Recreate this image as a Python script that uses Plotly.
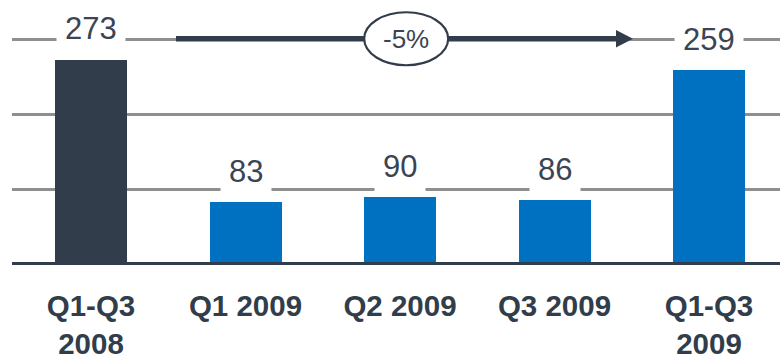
import plotly.graph_objects as go

# Sales volume by period
categories = ["Q1-Q3<br>2008", "Q1 2009", "Q2 2009", "Q3 2009", "Q1-Q3<br>2009"]
values = [273, 83, 90, 86, 259]
change_label = "-5%"

DARK = "#323d4b"
BLUE = "#0070c0"
TEXT = "#3b4452"
GRID = "#8f8f8f"

x_idx = list(range(len(categories)))
bar_colors = [DARK, BLUE, BLUE, BLUE, BLUE]

fig = go.Figure()
fig.add_trace(go.Bar(
    x=x_idx, y=values, width=0.466,
    marker=dict(color=bar_colors, line=dict(width=0)),
    hoverinfo="skip",
))

# value labels on white boxes that break the gridlines
annotations = []
for xi, v in zip(x_idx, values):
    annotations.append(dict(
        x=xi, y=v, xref="x", yref="y", text=str(v), showarrow=False,
        yanchor="middle", yshift=31,
        font=dict(family="Liberation Sans, Arial", size=31, color=TEXT),
        bgcolor="white", borderpad=8,
    ))

# change bubble
arrow_y = 301
annotations.append(dict(
    x=2.04, y=arrow_y, xref="x", yref="y", text=change_label, showarrow=False,
    font=dict(family="Liberation Sans, Arial", size=26, color=TEXT),
))

shapes = [
    # baseline
    dict(type="line", xref="paper", yref="y", x0=0, x1=1, y0=0, y1=0,
         line=dict(color=DARK, width=5), layer="above"),
    # arrow shaft
    dict(type="line", xref="x", yref="y", x0=0.55, x1=3.40, y0=arrow_y, y1=arrow_y,
         line=dict(color=DARK, width=5.5), layer="above"),
    # arrow head
    dict(type="path", xref="x", yref="y", xsizemode="pixel", ysizemode="pixel",
         xanchor=3.508, yanchor=arrow_y,
         path="M 0,0 L -17,8.7 L -17,-8.7 Z",
         fillcolor=DARK, line=dict(color=DARK, width=0), layer="above"),
    # ellipse around the change label
    dict(type="circle", xref="x", yref="y", xsizemode="pixel", ysizemode="pixel",
         xanchor=2.04, yanchor=arrow_y, x0=-42, x1=42, y0=-26.5, y1=26.5,
         fillcolor="white", line=dict(color=DARK, width=2.2), layer="above"),
]

fig.update_layout(
    width=780, height=361,
    margin=dict(l=12, r=0, t=0, b=96, autoexpand=False),
    paper_bgcolor="white", plot_bgcolor="white",
    showlegend=False,
    bargap=0,
    annotations=annotations,
    shapes=shapes,
    xaxis=dict(
        range=[-0.5113, 4.4595], tickmode="array", tickvals=x_idx, ticktext=categories,
        showgrid=False, zeroline=False, showline=False, ticks="",
        tickfont=dict(family="Liberation Sans, Arial", size=29.5, color=DARK, weight="bold"),
        ticklabelstandoff=20, automargin=False,
    ),
    yaxis=dict(
        range=[-0.667, 352.67], tickvals=[100, 200, 300], showticklabels=False,
        showgrid=True, gridcolor=GRID, gridwidth=3, zeroline=False, showline=False,
        automargin=False,
    ),
)

fig.write_html("out.html")
